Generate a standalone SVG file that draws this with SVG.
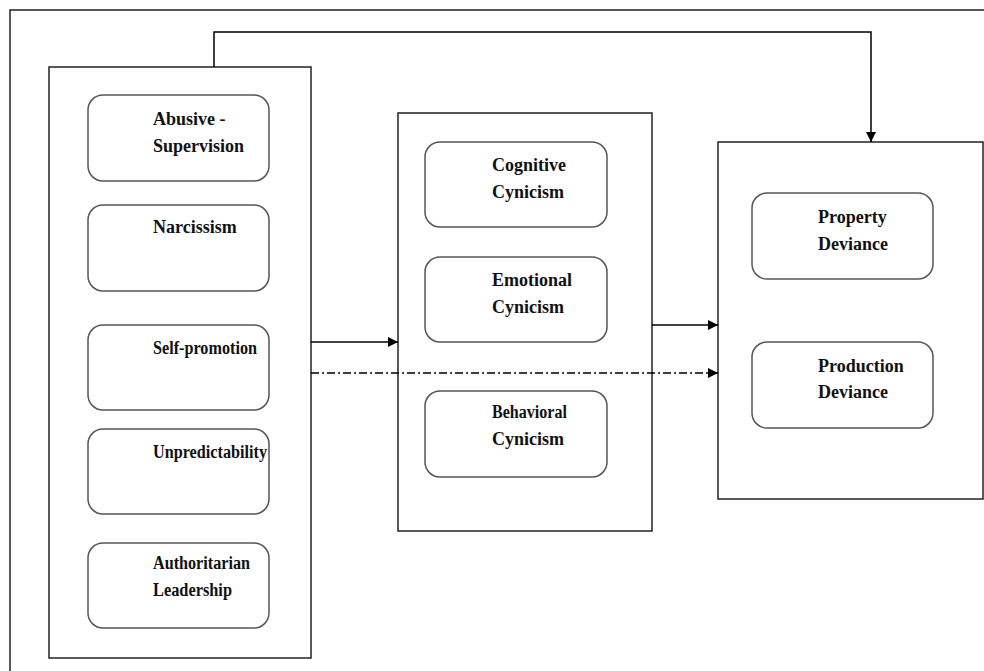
<svg xmlns="http://www.w3.org/2000/svg" width="984" height="671" viewBox="0 0 984 671">
<style>
.frame{fill:none;stroke:#222;stroke-width:1.5}
.box{fill:#fff;stroke:#222;stroke-width:1.5}
.rr{fill:#fff;stroke:#555;stroke-width:1.5}
.t{font-family:"Liberation Serif","Times New Roman",serif;font-weight:bold;font-size:18px;fill:#111}
.c{fill:none;stroke:#000;stroke-width:1.5}
.dd{stroke-dasharray:8 3 2 3}
</style>
<defs>
<marker id="ah" viewBox="0 0 10 10" refX="10" refY="5" markerWidth="10" markerHeight="10" markerUnits="userSpaceOnUse" orient="auto">
<path d="M0,0 L10,5 L0,10 z" fill="#000"/>
</marker>
</defs>
<rect width="984" height="671" fill="#fff"/>
<path class="frame" d="M10,671 V10 H984"/>
<g id="predictors">
<rect class="box" x="49" y="67" width="262" height="591"/>
</g>
<g id="abusive">
<rect class="rr" x="88" y="95" width="181" height="86" rx="15"/>
<text class="t" x="153" y="125">Abusive -</text>
<text class="t" x="153" y="152">Supervision</text>
</g>
<g id="narcissism">
<rect class="rr" x="88" y="205" width="181" height="86" rx="15"/>
<text class="t" x="153" y="233">Narcissism</text>
</g>
<g id="selfpromotion">
<rect class="rr" x="88" y="325" width="181" height="85" rx="15"/>
<text class="t" x="153" y="354" textLength="104" lengthAdjust="spacingAndGlyphs">Self-promotion</text>
</g>
<g id="unpredictability">
<rect class="rr" x="88" y="429" width="181" height="85" rx="15"/>
<text class="t" x="153" y="458" textLength="114" lengthAdjust="spacingAndGlyphs">Unpredictability</text>
</g>
<g id="authoritarian">
<rect class="rr" x="88" y="543" width="181" height="85" rx="15"/>
<text class="t" x="153" y="569" textLength="97" lengthAdjust="spacingAndGlyphs">Authoritarian</text>
<text class="t" x="153" y="596" textLength="79" lengthAdjust="spacingAndGlyphs">Leadership</text>
</g>
<g id="cynicism">
<rect class="box" x="398" y="113" width="254" height="418"/>
</g>
<g id="cognitive">
<rect class="rr" x="425" y="142" width="182" height="85" rx="15"/>
<text class="t" x="492" y="171">Cognitive</text>
<text class="t" x="492" y="198">Cynicism</text>
</g>
<g id="emotional">
<rect class="rr" x="425" y="257" width="182" height="85" rx="15"/>
<text class="t" x="492" y="286">Emotional</text>
<text class="t" x="492" y="313">Cynicism</text>
</g>
<g id="behavioral">
<rect class="rr" x="425" y="391" width="182" height="86" rx="15"/>
<text class="t" x="492" y="418" textLength="75" lengthAdjust="spacingAndGlyphs">Behavioral</text>
<text class="t" x="492" y="445">Cynicism</text>
</g>
<g id="deviance">
<rect class="box" x="718" y="142" width="265" height="357"/>
</g>
<g id="property">
<rect class="rr" x="752" y="193" width="181" height="86" rx="15"/>
<text class="t" x="818" y="223">Property</text>
<text class="t" x="818" y="250">Deviance</text>
</g>
<g id="production">
<rect class="rr" x="752" y="342" width="181" height="86" rx="15"/>
<text class="t" x="818" y="372">Production</text>
<text class="t" x="818" y="398">Deviance</text>
</g>
<g id="connectors">
<path class="c" d="M214,67 V32 H871 V142" marker-end="url(#ah)"/>
<path class="c" d="M311,342 H398" marker-end="url(#ah)"/>
<path class="c" d="M652,325 H718" marker-end="url(#ah)"/>
<path class="c dd" d="M311,373 H718" marker-end="url(#ah)"/>
</g>
</svg>
